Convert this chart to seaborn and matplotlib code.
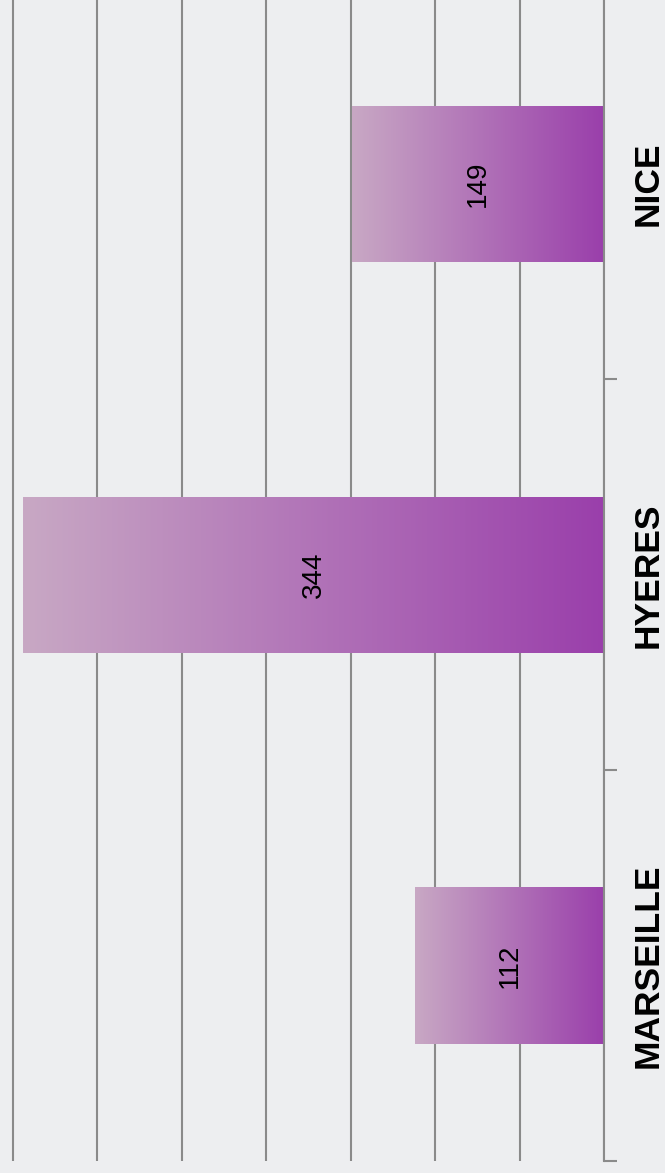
import numpy as np
import pandas as pd
import matplotlib
matplotlib.use("Agg")
import matplotlib.pyplot as plt
import seaborn as sns
from matplotlib.colors import LinearSegmentedColormap

# ---- data ----
cities = ["NICE", "HYERES", "MARSEILLE"]
counts = [149, 344, 112]
grid_values = [0, 50, 100, 150, 200, 250, 300, 350]

bg = "#EDEEF0"
grid_col = "#8A8A8A"
light = "#C8A8C4"
dark = "#9A3FAB"

sns.set_theme(style="white", rc={"axes.facecolor": bg, "figure.facecolor": bg})
plt.rcParams["font.family"] = ["Liberation Sans", "DejaVu Sans"]

fig = plt.figure(figsize=(6.65, 11.73), dpi=100, facecolor=bg)
ax = fig.add_axes([0, 12 / 1173, 604 / 665, 1161 / 1173])

df = pd.DataFrame({"city": cities, "count": counts})
sns.barplot(data=df, x="count", y="city", order=cities, orient="h",
            width=0.4, color=dark, saturation=1, ax=ax)

cmap = LinearSegmentedColormap.from_list("grad", [light, dark])
grad = np.linspace(0, 1, 256).reshape(1, -1)
for p in ax.patches:
    p.set_edgecolor("none")
    x0, w = p.get_x(), p.get_width()
    y0, h = p.get_y(), p.get_height()
    im = ax.imshow(grad, cmap=cmap, aspect="auto", interpolation="bilinear",
                   extent=(x0 + w, x0, y0 + h, y0), zorder=2)
    im.set_clip_path(p)

ax.bar_label(ax.containers[0], fmt="%d", label_type="center",
             rotation=90, fontsize=20, color="black", zorder=5)

ax.set_xticks(grid_values)
ax.set_xticklabels([])
ax.tick_params(axis="x", length=0)
ax.xaxis.grid(True, color=grid_col, lw=1.5)
ax.yaxis.grid(False)
ax.set_axisbelow(True)

for s in ["left", "top", "bottom"]:
    ax.spines[s].set_visible(False)
ax.spines["right"].set_color(grid_col)
ax.spines["right"].set_linewidth(1.5)

ax.yaxis.tick_right()
ax.set_yticks([0, 1, 2])
ax.set_yticklabels(cities)
ax.set_yticks([0.5, 1.5, 2.5], minor=True)
ax.tick_params(axis="y", which="major", length=0, pad=32, labelsize=25.5,
               labelrotation=90, right=True, left=False, labelcolor="black")
ax.tick_params(axis="y", which="minor", length=9, width=1.5, color=grid_col,
               right=True, left=False)
for lbl in ax.get_yticklabels():
    lbl.set_fontweight("bold")
    lbl.set_va("center")
    lbl.set_ha("center")

ax.set_xlabel("")
ax.set_ylabel("")

# limits last (set_ticks may expand the view)
ax.set_xlim(357.6, 0)
ax.set_ylim(2.5, -0.4706)

fig.savefig("out.png", dpi=100, facecolor=bg)
